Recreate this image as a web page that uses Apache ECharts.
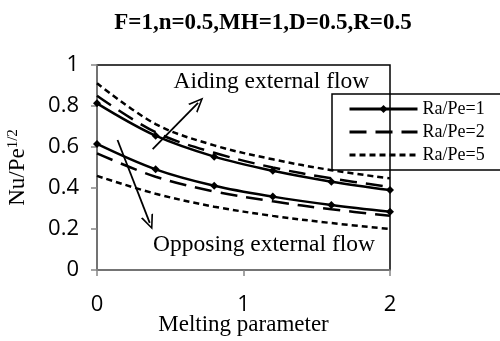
<!DOCTYPE html>
<html>
<head>
<meta charset="utf-8">
<script src="https://cdn.jsdelivr.net/npm/echarts@6/dist/echarts.min.js"></script>
<style>
  html, body { margin: 0; padding: 0; background: #fff; }
  #chart { width: 500px; height: 341px; }
</style>
</head>
<body>
<div id="chart"></div>
<script>
// Melting parameter values at which Nu/Pe^1/2 is tabulated
const melting = [0, 0.4, 0.8, 1.2, 1.6, 2.0];

// Aiding external flow branch
const aidingRa1 = [0.813, 0.655, 0.553, 0.484, 0.431, 0.390];
const aidingRa2 = [0.850, 0.672, 0.572, 0.500, 0.447, 0.405];
const aidingRa5 = [0.911, 0.712, 0.608, 0.540, 0.487, 0.447];

// Opposing external flow branch
const opposingRa1 = [0.615, 0.491, 0.411, 0.358, 0.317, 0.284];
const opposingRa2 = [0.569, 0.455, 0.383, 0.335, 0.296, 0.265];
const opposingRa5 = [0.459, 0.372, 0.309, 0.264, 0.229, 0.200];

const legendNames = ['Ra/Pe=1', 'Ra/Pe=2', 'Ra/Pe=5'];
const yTicks = [0, 0.2, 0.4, 0.6, 0.8, 1];
const xTicks = [0, 1, 2];

const serif = '"Liberation Serif", "Times New Roman", serif';
const sans = '"Open Sans", "Noto Sans", sans-serif';

const pairs = ys => melting.map((x, i) => [x, ys[i]]);

const styles = {
  'Ra/Pe=1': { type: 'solid', symbol: 'diamond', symbolSize: 8 },
  'Ra/Pe=2': { type: [17, 9], symbol: 'none', symbolSize: 0 },
  'Ra/Pe=5': { type: [6, 4], symbol: 'none', symbolSize: 0 }
};

function curve(name, ys) {
  const s = styles[name];
  return {
    name: name,
    type: 'line',
    smooth: 0.35,
    data: pairs(ys),
    symbol: s.symbol,
    symbolSize: s.symbolSize,
    showSymbol: s.symbol !== 'none',
    itemStyle: { color: '#000' },
    lineStyle: { color: '#000', width: 2.5, type: s.type },
    emphasis: { disabled: true },
    z: 3
  };
}

// open chevron used as arrow head
const chevron = 'path://M0,10 L5,0 L10,10 L8.6,10 L5,2.6 L1.4,10 Z';

const series = [
  curve('Ra/Pe=1', aidingRa1),
  curve('Ra/Pe=2', aidingRa2),
  curve('Ra/Pe=5', aidingRa5),
  curve('Ra/Pe=1', opposingRa1),
  curve('Ra/Pe=2', opposingRa2),
  curve('Ra/Pe=5', opposingRa5)
];

// arrows and captions marking the two flow regimes
series[0].markLine = {
  silent: true,
  symbol: ['none', chevron],
  symbolSize: [13, 15],
  label: { show: false },
  lineStyle: { color: '#000', width: 1.8, type: 'solid' },
  data: [
    [{ coord: [0.38, 0.59] }, { coord: [0.69, 0.815] }],
    [{ coord: [0.14, 0.634] }, { coord: [0.36, 0.23] }]
  ]
};
series[0].markPoint = {
  silent: true,
  symbol: 'rect',
  symbolSize: 0,
  label: {
    show: true,
    position: 'inside',
    color: '#000',
    fontFamily: serif,
    fontSize: 23.5
  },
  data: [
    { coord: [1.19, 0.917], label: { formatter: 'Aiding external flow' } },
    { coord: [1.14, 0.122], label: { formatter: 'Opposing external flow' } }
  ]
};

const chart = echarts.init(document.getElementById('chart'), null, { renderer: 'canvas' });
chart.setOption({
  animation: false,
  backgroundColor: '#fff',
  title: {
    text: 'F=1,n=0.5,MH=1,D=0.5,R=0.5',
    left: 258,
    top: 7,
    textAlign: 'center',
    textStyle: { fontFamily: serif, fontWeight: 'bold', fontSize: 23, color: '#000' }
  },
  grid: {
    left: 97, right: 110, top: 65, bottom: 71,
    containLabel: false,
    outerBoundsMode: 'none',
    show: true, borderColor: '#000', borderWidth: 1.5, backgroundColor: 'transparent'
  },
  legend: {
    data: [
      { name: legendNames[0] },
      { name: legendNames[1], itemStyle: { opacity: 0 } },
      { name: legendNames[2], itemStyle: { opacity: 0 } }
    ],
    orient: 'vertical',
    left: 332,
    top: 94,
    backgroundColor: 'rgba(0,0,0,0)',
    borderColor: '#000',
    borderWidth: 1.5,
    padding: [6, 30, 6, 16],
    itemWidth: 68,
    itemHeight: 10,
    itemGap: 5,
    lineStyle: { width: 3 },
    textStyle: { fontFamily: serif, fontSize: 18, color: '#000' },
    selectedMode: false
  },
  xAxis: {
    type: 'value',
    min: xTicks[0],
    max: xTicks[xTicks.length - 1],
    interval: 1,
    name: 'Melting parameter',
    nameLocation: 'middle',
    nameGap: 43,
    nameMoveOverlap: false,
    nameTextStyle: { fontFamily: serif, fontSize: 23, color: '#000' },
    axisLine: { lineStyle: { color: '#868686', width: 1.5 } },
    axisTick: { show: true, inside: false, length: 6, lineStyle: { color: '#868686', width: 1.5 } },
    axisLabel: { margin: 24, fontFamily: sans, fontSize: 22, color: '#000' },
    splitLine: { show: false }
  },
  yAxis: {
    type: 'value',
    min: yTicks[0],
    max: yTicks[yTicks.length - 1],
    interval: 0.2,
    name: 'Nu/Pe{sup|1/2}',
    nameLocation: 'middle',
    nameRotate: 90,
    nameGap: 67,
    nameMoveOverlap: false,
    nameTextStyle: {
      fontFamily: serif, fontSize: 23, color: '#000',
      rich: { sup: { fontFamily: serif, fontSize: 15, verticalAlign: 'top', padding: [0, 0, 9, 0] } }
    },
    axisLine: { show: true, lineStyle: { color: '#868686', width: 1.5 } },
    axisTick: { show: true, inside: false, length: 6, lineStyle: { color: '#868686', width: 1.5 } },
    axisLabel: { margin: 18, fontFamily: sans, fontSize: 22, color: '#000' },
    splitLine: { show: false }
  },
  series: series
});
</script>
</body>
</html>
